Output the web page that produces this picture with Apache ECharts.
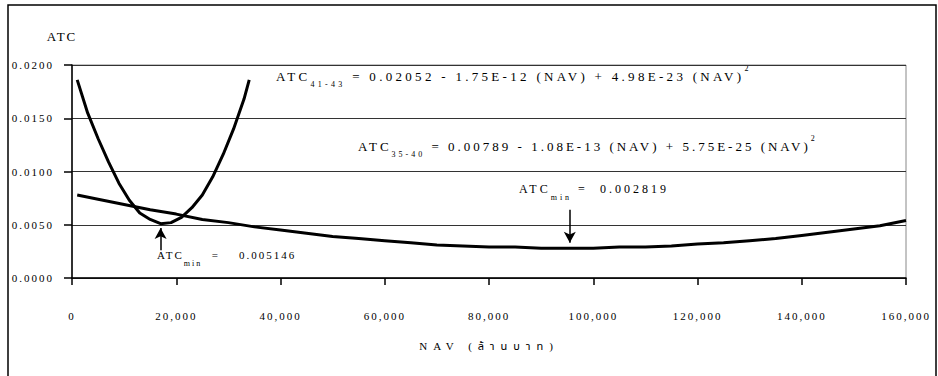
<!DOCTYPE html>
<html>
<head>
<meta charset="utf-8">
<script src="https://cdn.jsdelivr.net/npm/echarts@6/dist/echarts.min.js"></script>
<style>
html,body{margin:0;padding:0;background:#fff;}
#c{width:938px;height:376px;}
svg text{letter-spacing:2px;white-space:pre;}
svg text[style*="Times New Roman"]{letter-spacing:3px;}
svg text[style*="Tinos"]{letter-spacing:3.3px;}
svg text[style*="Noto Sans Thai"]{letter-spacing:6px;}
</style>
</head>
<body>
<div id="c"></div>
<script>
// ---- data ----
const atc4143X = [1000, 3000, 5000, 7000, 9000, 11000, 13000, 15000, 17000, 19000, 21000, 23000, 25000, 27000, 29000, 31000, 33000, 34000];
const atc4143Y = [0.0186, 0.0155, 0.0131, 0.0109, 0.0089, 0.0073, 0.0061, 0.0055, 0.0051, 0.0052, 0.0057, 0.0066, 0.0078, 0.0095, 0.0116, 0.0140, 0.0168, 0.0186];
const atc3540X = [1000, 5000, 10000, 15000, 20000, 25000, 30000, 35000, 40000, 45000, 50000, 55000, 60000, 65000, 70000, 75000, 80000, 85000, 90000, 95000, 100000, 105000, 110000, 115000, 120000, 125000, 130000, 135000, 140000, 145000, 150000, 155000, 160000];
const atc3540Y = [0.0078, 0.0074, 0.0069, 0.0064, 0.0060, 0.0055, 0.0052, 0.0048, 0.0045, 0.0042, 0.0039, 0.0037, 0.0035, 0.0033, 0.0031, 0.0030, 0.0029, 0.0029, 0.0028, 0.0028, 0.0028, 0.0029, 0.0029, 0.0030, 0.0032, 0.0033, 0.0035, 0.0037, 0.0040, 0.0043, 0.0046, 0.0049, 0.0054];
const xTickLabels = ['0', '20,000', '40,000', '60,000', '80,000', '100,000', '120,000', '140,000', '160,000'];
const yTickLabels = ['0.0000', '0.0050', '0.0100', '0.0150', '0.0200'];
const minPoint3540 = [95500, 0.002819];
const minPoint4143 = [17000, 0.005146];

const FAM = "Liberation Serif, serif";
const FAM_EQ = "Liberation Serif, Times New Roman, serif";
const FAM_EQ1 = "Liberation Serif, Tinos, serif";
const FAM_TH = "Liberation Serif, Noto Sans Thai, Noto Serif Thai, Loma, Garuda, DejaVu Sans, serif";

function richText(parts, fam, size, ls) {
  const rich = {};
  let text = '';
  parts.forEach((p, i) => {
    const t = p[0], kind = p[1];
    const name = 't' + i;
    const fs = kind === 'm' ? size : 8;
    rich[name] = {
      fontFamily: fam,
      fontSize: fs,
      lineHeight: kind === 'm' ? size + 1 : 8,
      verticalAlign: 'top',
      color: '#000',
      padding: [kind === 'm' ? 6 : (kind === 'sub' ? 16 : 0), ls * t.length, 0, 0]
    };
    text += '{' + name + '|' + t + '}';
  });
  return { text, rich };
}

const eq1 = richText([['ATC', 'm'], ['41-43', 'sub'], [' = 0.02052 - 1.75E-12 (NAV) + 4.98E-23 (NAV)', 'm'], ['2', 'sup']], FAM_EQ1, 13, 3.3);
const eq2 = richText([['ATC', 'm'], ['35-40', 'sub'], [' = 0.00789 - 1.08E-13 (NAV) + 5.75E-25 (NAV)', 'm'], ['2', 'sup']], FAM_EQ, 13, 3);
const lab1 = richText([['ATC', 'm'], ['min', 'sub'], [' =  0.002819', 'm']], FAM_EQ, 12, 3);
const lab2 = richText([['ATC', 'm'], ['min', 'sub'], ['  =    0.005146', 'm']], FAM, 11, 2);

const chart = echarts.init(document.getElementById('c'), null, { renderer: 'svg' });
chart.setOption({
  animation: false,
  backgroundColor: '#fff',
  textStyle: { fontFamily: FAM, color: '#000' },
  grid: { left: 72, right: 32, top: 65, bottom: 98, show: true, borderColor: '#888', borderWidth: 1 },
  xAxis: {
    type: 'value', min: 0, max: 160000, interval: 20000,
    name: 'NAV (ล้านบาท)', nameLocation: 'middle', nameGap: 62,
    nameTextStyle: { fontFamily: FAM_TH, fontSize: 11, color: '#000' },
    axisLine: { show: true, lineStyle: { color: '#000', width: 1.5 } },
    axisTick: { show: true, inside: false, length: 7, lineStyle: { color: '#000', width: 1.5 } },
    axisLabel: {
      margin: 32, fontFamily: FAM, fontSize: 11, color: '#000',
      formatter: v => xTickLabels[Math.round(v / 20000)]
    },
    splitLine: { show: false }
  },
  yAxis: {
    type: 'value', min: 0, max: 0.02, interval: 0.005,
    name: 'ATC', nameLocation: 'end', nameGap: 22,
    nameTextStyle: { fontFamily: FAM, fontSize: 13, color: '#000', align: 'center', padding: [0, 20, 0, 0] },
    axisLine: { show: true, lineStyle: { color: '#000', width: 1.5 } },
    axisTick: { show: true, inside: false, length: 8, lineStyle: { color: '#000', width: 1.5 } },
    axisLabel: {
      margin: 18, fontFamily: FAM, fontSize: 11, color: '#000', verticalAlign: 'middle',
      formatter: v => yTickLabels[Math.round(v / 0.005)]
    },
    splitLine: { show: true, lineStyle: { color: '#333', width: 1 } }
  },
  series: [
    {
      name: 'ATC 41-43', type: 'line', symbol: 'none', smooth: false,
      data: atc4143X.map((x, i) => [x, atc4143Y[i]]),
      lineStyle: { color: '#000', width: 3 },
      markLine: {
        silent: true, symbol: ['none', 'arrow'], symbolSize: [9, 11],
        label: { show: false },
        lineStyle: { color: '#000', width: 1.5, type: 'solid' },
        data: [[{ coord: [minPoint4143[0], 0.0026] }, { coord: [minPoint4143[0], 0.0047] }]]
      }
    },
    {
      name: 'ATC 35-40', type: 'line', symbol: 'none', smooth: false,
      data: atc3540X.map((x, i) => [x, atc3540Y[i]]),
      lineStyle: { color: '#000', width: 3 },
      markLine: {
        silent: true, symbol: ['none', 'arrow'], symbolSize: [9, 11],
        label: { show: false },
        lineStyle: { color: '#000', width: 1.5, type: 'solid' },
        data: [[{ coord: [minPoint3540[0], 0.0064] }, { coord: [minPoint3540[0], 0.0033] }]]
      }
    }
  ],
  graphic: [
    { type: 'rect', silent: true, z: -1, shape: { x: 8, y: 5, width: 928, height: 400 }, style: { fill: 'none', stroke: '#000', lineWidth: 1.5 } },
    { type: 'text', x: 276, y: 64, style: { text: eq1.text, rich: eq1.rich, font: '13px ' + FAM_EQ1 } },
    { type: 'text', x: 358, y: 134, style: { text: eq2.text, rich: eq2.rich, font: '13px ' + FAM_EQ } },
    { type: 'text', x: 519, y: 177, style: { text: lab1.text, rich: lab1.rich, font: '12px ' + FAM_EQ } },
    { type: 'text', x: 157, y: 243, style: { text: lab2.text, rich: lab2.rich, font: '11px ' + FAM } }
  ]
});
</script>
</body>
</html>
